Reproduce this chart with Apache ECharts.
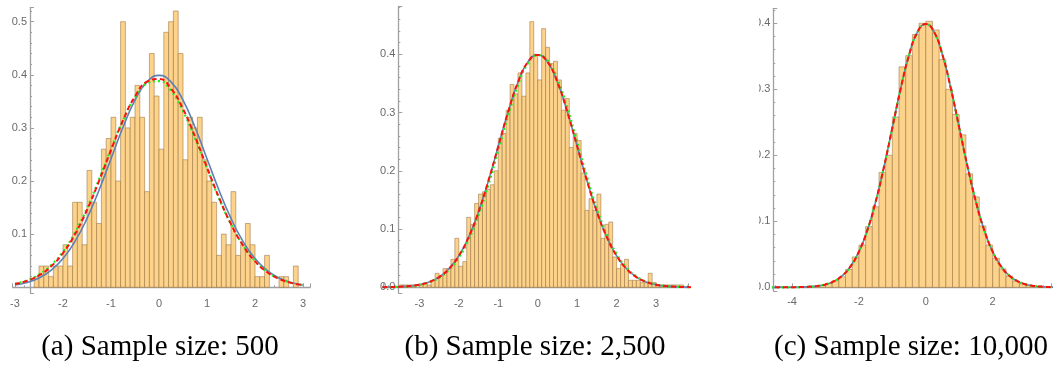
<!DOCTYPE html>
<html><head><meta charset="utf-8">
<script src="https://cdn.jsdelivr.net/npm/echarts@6/dist/echarts.min.js"></script>
<style>html,body{margin:0;padding:0;background:#fff}#c{width:1054px;height:369px}</style>
</head><body><div id="c"></div>
<script>
// ---------- data ----------
// Panel (a): n = 500, bins of width 0.1 starting at -2.6
const histA_start = -2.6, histA_width = 0.1;
const histA = [0.02,0.04,0.04,0.02,0.04,0.04,0.08,0.04,0.16,0.16,
  0.08,0.22,0.16,0.12,0.26,0.28,0.32,0.20,0.50,0.30,
  0.32,0.38,0.32,0.18,0.44,0.36,0.26,0.48,0.50,0.52,
  0.44,0.24,0.32,0.30,0.32,0.24,0.20,0.16,0.06,0.10,
  0.08,0.18,0.06,0.08,0.12,0.08,0.02,0.02,0.06,0,
  0,0.02,0.02,0,0.04];
// Panel (b): n = 2500, bins of width 0.1 starting at -3.5
const histB_start = -3.5, histB_width = 0.1;
const histB = [0.004,0.004,0.004,0.004,0,0.004,0.008,0.004,0.012,0.024,
  0.020,0.032,0.032,0.048,0.084,0.036,0.044,0.120,0.108,0.144,
  0.160,0.164,0.168,0.176,0.200,0.256,0.264,0.304,0.348,0.332,
  0.368,0.328,0.368,0.456,0.400,0.356,0.444,0.412,0.384,0.388,
  0.356,0.304,0.324,0.240,0.264,0.252,0.196,0.132,0.152,0.132,
  0.160,0.084,0.108,0.112,0.052,0.032,0.040,0.048,0.012,0.012,
  0.012,0.008,0.008,0.024,0.008,0.004,0.004,0.004,0.004,0.004,
  0.004,0.004,0];
// Panel (c): n = 10000, bins of width 0.2 starting at -4.4
const histC_start = -4.4, histC_width = 0.2;
const histC = [0.0005,0,0.0005,0.0005,0.001,0.0015,0.003,0.006,0.010,0.016,
  0.027,0.046,0.064,0.092,0.122,0.174,0.200,0.258,0.334,0.351,
  0.383,0.400,0.403,0.390,0.345,0.300,0.262,0.231,0.172,0.137,
  0.093,0.064,0.044,0.028,0.017,0.0095,0.0055,0.003,0.0015,0.001,0.0005];

// Density curves (values read at x steps of 0.25)
const curveA_x = [-3,-2.75,-2.5,-2.25,-2,-1.75,-1.5,-1.25,-1,-0.75,-0.5,-0.25,0,0.25,0.5,0.75,1,1.25,1.5,1.75,2,2.25,2.5,2.75,3];
const blueA = [0.0044,0.0091,0.0175,0.0317,0.0540,0.0863,0.1295,0.1826,0.2420,0.3011,0.3521,0.3867,0.3989,0.3867,0.3521,0.3011,0.2420,0.1826,0.1295,0.0863,0.0540,0.0317,0.0175,0.0091,0.0044];
const redA = [0.0061,0.0120,0.0224,0.0391,0.0645,0.0999,0.1457,0.1999,0.2583,0.3140,0.3593,0.3869,0.3921,0.3740,0.3357,0.2836,0.2255,0.1687,0.1188,0.0788,0.0491,0.0288,0.0159,0.0083,0.0041];
const greenA = [0.0067,0.0131,0.0240,0.0414,0.0673,0.1032,0.1491,0.2029,0.2602,0.3143,0.3579,0.3839,0.3880,0.3696,0.3316,0.2804,0.2234,0.1677,0.1186,0.0791,0.0497,0.0294,0.0164,0.0086,0.0043];

const curveBC_x = [-4.75,-4.5,-4.25,-4,-3.75,-3.5,-3.25,-3,-2.75,-2.5,-2.25,-2,-1.75,-1.5,-1.25,-1,-0.75,-0.5,-0.25,0,0.25,0.5,0.75,1,1.25,1.5,1.75,2,2.25,2.5,2.75,3,3.25,3.5,3.75,4];
const stdNormal = [0.000005,0.000016,0.000049,0.000134,0.000353,0.000873,0.002029,0.004432,0.009094,0.017528,0.031740,0.053991,0.086277,0.129518,0.182649,0.241971,0.301137,0.352065,0.386668,0.398942,0.386668,0.352065,0.301137,0.241971,0.182649,0.129518,0.086277,0.053991,0.031740,0.017528,0.009094,0.004432,0.002029,0.000873,0.000353,0.000134];
const greenB = [0.000004,0.000013,0.000042,0.000118,0.000313,0.000781,0.00183,0.00403,0.00834,0.01621,0.0296,0.05075,0.08175,0.1237,0.1758,0.2347,0.2944,0.3468,0.3838,0.3985,0.3896,0.3573,0.3079,0.2492,0.1895,0.1353,0.0908,0.0572,0.0339,0.0188,0.00984,0.00483,0.00223,0.00096,0.00039,0.00015];

const captions = ['(a) Sample size: 500', '(b) Sample size: 2,500', '(c) Sample size: 10,000'];

// ---------- chart ----------
const chart = echarts.init(document.getElementById('c'), null, {renderer: 'canvas'});
const axisColor = '#a0a0a0', labelColor = '#6a6a6a';
const labelFont = {color: labelColor, fontSize: 11, fontFamily: 'Liberation Sans Narrow, Liberation Sans, Arial'};

function pairs(xs, ys) { return xs.map((x, i) => [x, ys[i]]); }

function histSeries(idx, start, width, heights) {
  const data = heights.map((h, i) => [start + i * width, start + (i + 1) * width, h]);
  return {
    type: 'custom', xAxisIndex: idx, yAxisIndex: idx, data: data,
    encode: {x: [0, 1], y: 2}, z: 1, silent: true,
    renderItem: function (params, api) {
      const x0 = api.value(0), x1 = api.value(1), h = api.value(2);
      if (!(h > 0)) return null;
      const p0 = api.coord([x0, h]);
      const p1 = api.coord([x1, 0]);
      return {type: 'rect', shape: {x: p0[0], y: p0[1], width: p1[0] - p0[0], height: p1[1] - p0[1]},
        style: {fill: '#FDD28B', stroke: 'rgba(150,112,62,0.6)', lineWidth: 0.9}};
    }
  };
}
function lineSeries(idx, data, color, type, width, z) {
  return {type: 'line', xAxisIndex: idx, yAxisIndex: idx, data: data, smooth: 0.5, showSymbol: false,
    symbol: 'none', silent: true, z: z, animation: false,
    lineStyle: {color: color, width: width, type: type, cap: 'butt'}};
}

const grids = [
  {left: 12.6, width: 297.6, top: 7.3, height: 285.8},
  {left: 383.45, width: 305.0, top: 6.5, height: 286.6},
  {left: 773.0, width: 281.0, top: 8.3, height: 283.0}
];
const xRanges = [[-3.05, 3.15, 6, 5], [-3.91, 3.82, 7, 5], [-4.57, 3.745, 4, 4]];
const yRanges = [[-0.011, 0.527, -17.4, false], [-0.01, 0.482, -14.85, true], [-0.006, 0.4227, -0.3, true]];

function near(v, step) { return Math.abs(v / step - Math.round(v / step)) < 1e-6; }

const xAxes = xRanges.map((r, i) => ({
  type: 'value', gridIndex: i, min: r[0], max: r[1], splitNumber: r[2],
  axisLine: {show: true, onZero: true, lineStyle: {color: axisColor, width: 1.3}},
  axisTick: {show: true, inside: true, length: 4, lineStyle: {color: axisColor}},
  minorTick: {show: true, splitNumber: r[3], length: 2, lineStyle: {color: axisColor}},
  splitLine: {show: false},
  axisLabel: Object.assign({margin: 5, showMinLabel: true, showMaxLabel: true,
    formatter: v => near(v, 1) ? String(Math.round(v)) : ''}, labelFont)
}));
const yAxes = yRanges.map((r, i) => ({
  type: 'value', gridIndex: i, min: r[0], max: r[1], splitNumber: 5, offset: r[2],
  axisLine: {show: true, onZero: false, lineStyle: {color: axisColor, width: 1.3}},
  axisTick: {show: true, inside: true, length: 4, lineStyle: {color: axisColor}},
  minorTick: {show: true, splitNumber: 5, length: 2, lineStyle: {color: axisColor}},
  splitLine: {show: false},
  axisLabel: Object.assign({margin: 3,
    formatter: v => (near(v, 0.1) && v > -1e-9 && (r[3] || v > 1e-9)) ? v.toFixed(1) : ''}, labelFont)
}));

const series = [
  histSeries(0, histA_start, histA_width, histA),
  lineSeries(0, pairs(curveA_x, blueA), '#5E81B5', 'solid', 1.6, 3),
  lineSeries(0, pairs(curveA_x, greenA), '#22EE22', [2, 3], 2.2, 4),
  lineSeries(0, pairs(curveA_x, redA), '#FF1010', [5, 3], 2.0, 5),
  histSeries(1, histB_start, histB_width, histB),
  lineSeries(1, pairs(curveBC_x, stdNormal), '#5E81B5', 'solid', 1.6, 3),
  lineSeries(1, pairs(curveBC_x, greenB), '#22EE22', [2, 3], 2.2, 4),
  lineSeries(1, pairs(curveBC_x, stdNormal), '#FF1010', [5, 3], 2.0, 5),
  histSeries(2, histC_start, histC_width, histC),
  lineSeries(2, pairs(curveBC_x, stdNormal), '#5E81B5', 'solid', 1.6, 3),
  lineSeries(2, pairs(curveBC_x, stdNormal), '#22EE22', [2, 3], 2.2, 4),
  lineSeries(2, pairs(curveBC_x, stdNormal), '#FF1010', [5, 3], 2.0, 5)
];

const captionX = [160, 535, 911];
const graphic = captions.map((t, i) => ({
  type: 'text', x: captionX[i], y: 347, z: 100,
  style: {text: t, fill: '#000', font: '29px "Liberation Serif", "Times New Roman", serif',
    textAlign: 'center', textVerticalAlign: 'middle'}
}));
// the third panel's picture is cropped just left of its tick labels
graphic.push({type: 'rect', z: 90, shape: {x: 740, y: 0, width: 19, height: 300}, style: {fill: '#fff'}});

chart.setOption({
  animation: false,
  grid: grids,
  xAxis: xAxes,
  yAxis: yAxes,
  series: series,
  graphic: graphic
});
</script></body></html>
